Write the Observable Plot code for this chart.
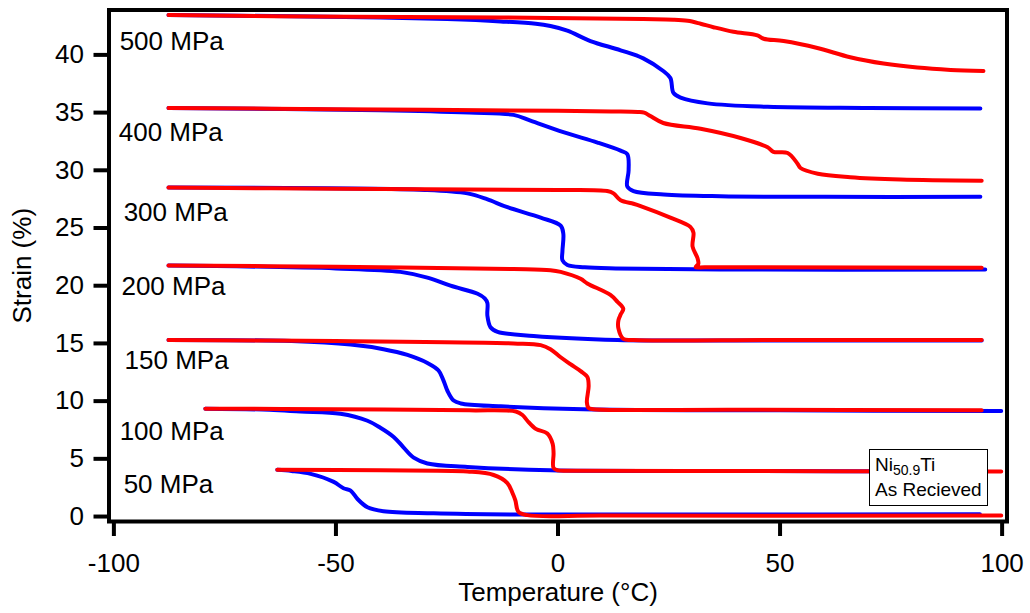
<!DOCTYPE html>
<html>
<head>
<meta charset="utf-8">
<script src="https://cdn.jsdelivr.net/npm/d3@7"></script>
<script src="https://cdn.jsdelivr.net/npm/@observablehq/plot@0.6"></script>
<style>
  html, body { margin: 0; padding: 0; background: #fff; }
  #wrap { position: relative; width: 1030px; height: 613px; overflow: hidden; }
  #legend {
    position: absolute; left: 869px; top: 449px; width: 119px; height: 57px;
    box-sizing: border-box; border: 1.5px solid #000; background: #fff;
    font-family: "Liberation Sans", Arial, sans-serif; font-size: 19px; color: #000;
    padding: 2px 0 0 5px; line-height: 25px;
  }
  #legend sub { font-size: 14px; vertical-align: -4px; line-height: 0; }
</style>
</head>
<body>
<div id="wrap"></div>
<script>
// Stress levels and their labels
const stresses = ["500 MPa", "400 MPa", "300 MPa", "200 MPa", "150 MPa", "100 MPa", "50 MPa"];
const labelT = [-98.7, -98.9, -97.8, -98.3, -97.6, -98.7, -97.8];
const labelStrain = [40.4, 32.5, 25.6, 19.2, 12.8, 6.6, 2.0];

// Cooling curves (blue): [temperature °C, strain %]
const cool500 = [[-87.7,43.45],[-60,43.35],[-40,43.25],[-25,43.1],[-12.9,42.9],[-5,42.7],[-1.7,42.5],[2.1,42.1],[7.3,41.2],[14.1,40.4],[19.2,39.7],[23.7,38.6],[25.3,38.0],[26.0,36.7],[27.6,36.3],[33.7,35.8],[47.2,35.5],[70,35.4],[95.1,35.35]];
const cool400 = [[-87.7,35.4],[-40,35.2],[-20,35.0],[-10,34.8],[-6.2,34.3],[1.2,33.3],[8.9,32.4],[14.1,31.7],[15.6,31.4],[15.9,30.0],[15.6,28.6],[17.0,28.2],[23.8,27.9],[36.6,27.75],[60,27.7],[95.1,27.7]];
const cool300 = [[-87.7,28.5],[-30,28.3],[-20.4,28.0],[-16,27.5],[-11.4,26.8],[-3.9,25.9],[0.6,25.2],[1.2,24.5],[1.0,23.0],[1.0,22.2],[2.1,21.8],[6,21.6],[13,21.5],[36.6,21.4],[96.2,21.4]];
const cool200 = [[-87.7,21.75],[-50,21.5],[-35.5,21.2],[-29.4,20.7],[-24.2,20.0],[-18.1,19.3],[-16.5,18.9],[-15.9,18.5],[-15.9,17.4],[-15.2,16.4],[-13.6,16.0],[-5.5,15.65],[13.4,15.3],[40,15.25],[95.4,15.25]];
const cool150 = [[-87.7,15.3],[-60,15.2],[-46.7,14.9],[-39.3,14.5],[-33.9,14.0],[-29.4,13.3],[-26.9,12.65],[-25.8,11.8],[-24.9,10.9],[-23.5,10.05],[-21.9,9.8],[-12.9,9.55],[5.7,9.3],[50,9.2],[99.8,9.15]];
const cool100 = [[-79.4,9.35],[-65,9.25],[-58,9.1],[-49,8.9],[-42.9,8.3],[-40.0,7.7],[-37.0,6.9],[-34.8,6.0],[-32.5,5.1],[-29.4,4.6],[-20.4,4.3],[-1.7,4.0],[40,3.95],[95,3.9]];
const cool50 = [[-63.2,4.05],[-60,3.95],[-55.7,3.7],[-50.5,3.0],[-48.3,2.45],[-46.7,2.25],[-45.1,1.5],[-42.9,0.8],[-39.3,0.45],[-28,0.28],[-9.1,0.18],[30,0.17],[95,0.2]];

// Heating curves (red)
const heat500 = [[-87.7,43.45],[-46,43.3],[-13,43.25],[19.2,43.1],[26,43.05],[29.2,42.95],[32.1,42.7],[35.0,42.4],[39.5,42.0],[44.9,41.7],[46.3,41.4],[50.8,41.2],[58.4,40.6],[65.8,39.8],[73.3,39.25],[80.9,38.9],[88.4,38.7],[95.8,38.6]];
const heat400 = [[-87.7,35.4],[-50,35.3],[0,35.15],[12,35.1],[18,35.06],[19.4,35.0],[20.8,34.7],[23.7,34.1],[32.1,33.6],[41.1,32.8],[47.2,32.0],[48.5,31.6],[51.7,31.5],[53.9,30.6],[54.6,30.2],[58.5,29.7],[65.8,29.4],[77.1,29.2],[95.4,29.1]];
const heat300 = [[-87.7,28.5],[-50,28.4],[0,28.3],[11.1,28.2],[12.5,28.0],[14.1,27.4],[17.0,27.1],[18.6,26.9],[25.3,25.9],[29.8,25.1],[30.5,24.6],[30.3,23.4],[31.4,22.4],[31.6,21.9],[31.0,21.6],[33,21.6],[45,21.6],[95.4,21.55]];
const heat200 = [[-87.7,21.75],[-50,21.65],[-10,21.45],[-1.7,21.35],[0.6,21.2],[5.1,20.6],[6.6,20.2],[11.8,19.2],[13.4,18.6],[14.7,18.0],[14.1,17.5],[13.6,17.0],[13.6,16.3],[14.7,15.4],[17,15.3],[50,15.3],[95.4,15.3]];
const heat150 = [[-87.7,15.3],[-50,15.2],[-10,15.0],[-3.9,14.85],[-1.7,14.5],[0.6,13.8],[2.8,13.2],[5.1,12.6],[6.6,12.1],[6.9,11.3],[6.5,9.9],[6.9,9.4],[8,9.3],[40,9.25],[95.4,9.2]];
const heat100 = [[-79.4,9.35],[-50,9.3],[-20,9.2],[-9.5,9.1],[-8,8.8],[-6.9,8.3],[-5.0,7.6],[-2.4,7.2],[-1.2,6.3],[-1.0,5.5],[-1.0,4.2],[0,4.0],[3,3.97],[30,3.95],[99.8,3.9]];
const heat50 = [[-63.2,4.05],[-40,4.0],[-20.4,3.9],[-14.5,3.6],[-11.4,2.9],[-10.2,2.0],[-9.6,1.4],[-8.9,0.4],[-6.9,0.12],[10,0.08],[99.8,0.08]];

const xTicks = [-100, -50, 0, 50, 100];
const yTicks = [0, 5, 10, 15, 20, 25, 30, 35, 40];

const coolCurves = [cool500, cool400, cool300, cool200, cool150, cool100, cool50];
const heatCurves = [heat500, heat400, heat300, heat200, heat150, heat100, heat50];

const rows = [];
coolCurves.forEach((c, i) => c.forEach(([T, s]) => rows.push({stress: stresses[i], branch: "cooling", T, s})));
heatCurves.forEach((c, i) => c.forEach(([T, s]) => rows.push({stress: stresses[i], branch: "heating", T, s})));
const labels = stresses.map((t, i) => ({t, x: labelT[i], y: labelStrain[i]}));

const font = "'Liberation Sans', Arial, Helvetica, sans-serif";
const chart = Plot.plot({
  width: 1030,
  height: 613,
  marginLeft: 108.5,
  marginRight: 23.5,
  marginTop: 9.5,
  marginBottom: 92,
  style: {fontFamily: font, fontSize: "26px", color: "#000", background: "#fff"},
  x: {domain: [-101.1, 101.1]},
  y: {domain: [-0.43, 43.89]},
  color: {domain: ["cooling", "heating"], range: ["#0000ff", "#ff0000"]},
  marks: [
    Plot.line(rows, {x: "T", y: "s", z: d => d.branch + d.stress, stroke: "branch", strokeWidth: 4, curve: "catmull-rom"}),
    Plot.text(labels, {x: "x", y: "y", text: "t", textAnchor: "start", lineAnchor: "bottom", fontSize: 26, fill: "#000"}),
    Plot.frame({stroke: "#000", strokeWidth: 4}),
    Plot.axisX({ticks: xTicks, tickSize: 15, tickPadding: 17, strokeWidth: 4, fontSize: 26, label: null, tickFormat: d => String(d)}),
    Plot.axisY({ticks: yTicks, tickSize: 15, tickPadding: 10, strokeWidth: 4, fontSize: 26, label: null, tickFormat: d => String(d)}),
    Plot.text(["Temperature (°C)"], {frameAnchor: "bottom", dy: 79, lineAnchor: "bottom", textAnchor: "middle", fontSize: 26, fill: "#000"}),
    Plot.text(["Strain (%)"], {frameAnchor: "left", dx: -86, rotate: -90, lineAnchor: "middle", textAnchor: "middle", fontSize: 26, fill: "#000"})
  ]
});
const wrap = document.getElementById("wrap");
wrap.appendChild(chart);
const leg = document.createElement("div");
leg.id = "legend";
leg.innerHTML = '<div>Ni<sub>50.9</sub>Ti</div><div>As Recieved</div>';
wrap.appendChild(leg);
</script>
</body>
</html>
